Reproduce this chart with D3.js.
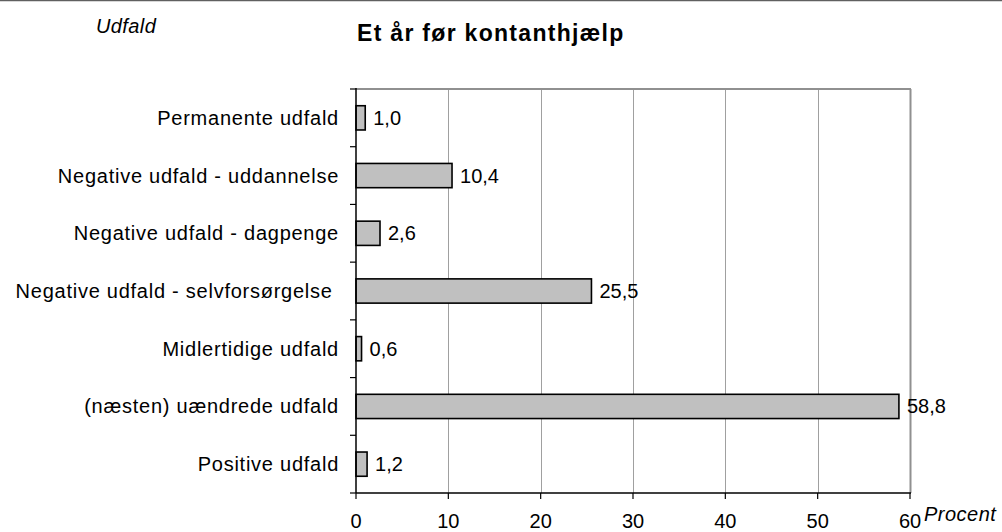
<!DOCTYPE html>
<html><head><meta charset="utf-8">
<script src="https://cdn.jsdelivr.net/npm/d3@7"></script>
<style>body{margin:0;background:#fff}svg{display:block}text{font-family:"Liberation Sans",Arial,sans-serif;white-space:pre}</style>
</head><body><svg id="c" width="1002" height="532"></svg>
<script>
const categories = ["Permanente udfald","Negative udfald - uddannelse","Negative udfald - dagpenge","Negative udfald - selvforsørgelse ","Midlertidige udfald","(næsten) uændrede udfald","Positive udfald"];
const values = [1.0, 10.4, 2.6, 25.5, 0.6, 58.8, 1.2];
const xTicks = [0,10,20,30,40,50,60];
const title = "Et år før kontanthjælp";
const yTitle = "Udfald";
const xTitle = "Procent";

const svg = d3.select("#c");
const L = 356, R = 910, T = 89, B = 493;
const x = d3.scaleLinear().domain([0,60]).range([L,R]);
const y = d3.scaleBand().domain(categories).range([T,B]).paddingInner(0.58).paddingOuter(0.29);

svg.append("line").attr("x1",0).attr("x2",1002).attr("y1",0.5).attr("y2",0.5).attr("stroke","#606060").attr("stroke-width",1.5);

// gridlines
svg.append("g").selectAll("line").data(xTicks.filter(d=>d>0)).join("line")
  .attr("x1",d=>Math.round(x(d))+0.5).attr("x2",d=>Math.round(x(d))+0.5)
  .attr("y1",T).attr("y2",B).attr("stroke","#a0a0a0").attr("stroke-width",1);
svg.append("line").attr("x1",L).attr("x2",R+1).attr("y1",T).attr("y2",T).attr("stroke","#909090").attr("stroke-width",2);
svg.append("line").attr("x1",R+0.5).attr("x2",R+0.5).attr("y1",T).attr("y2",B).attr("stroke","#909090").attr("stroke-width",2);

// bars
svg.append("g").selectAll("rect").data(values).join("rect")
  .attr("x",x(0)).attr("y",(d,i)=>y(categories[i]))
  .attr("width",d=>x(d)-x(0)).attr("height",y.bandwidth())
  .attr("fill","#c0c0c0").attr("stroke","#000").attr("stroke-width",1.6);

// value labels
svg.append("g").selectAll("text").data(values).join("text")
  .attr("x",d=>x(d)+8).attr("y",(d,i)=>y(categories[i])+y.bandwidth()/2)
  .attr("dy","0.35em").attr("font-size",20).attr("fill","#000")
  .text(d=>d3.format(".1f")(d).replace(".",","));

// y axis
const yAx = svg.append("g").attr("transform",`translate(${L},0)`);
yAx.append("line").attr("x1",0).attr("x2",0).attr("y1",T-1).attr("y2",B).attr("stroke","#000").attr("stroke-width",1.5);
const yTickPos = d3.range(categories.length+1).map(i=>T + i*(B-T)/categories.length);
yAx.selectAll("line.t").data(yTickPos).join("line").attr("class","t")
  .attr("x1",-6).attr("x2",0).attr("y1",d=>d).attr("y2",d=>d).attr("stroke","#000").attr("stroke-width",1.2);
svg.append("g").selectAll("text").data(categories).join("text")
  .attr("x",339).attr("y",d=>y(d)+y.bandwidth()/2).attr("dy","0.35em")
  .attr("text-anchor","end").attr("font-size",20).attr("letter-spacing",0.75).attr("fill","#000").text(d=>d);

// x axis
const xAx = svg.append("g").attr("transform",`translate(0,${B})`);
xAx.append("line").attr("x1",L).attr("x2",R+1).attr("y1",0).attr("y2",0).attr("stroke","#000").attr("stroke-width",1.5);
xAx.selectAll("line.t").data(xTicks).join("line").attr("class","t")
  .attr("x1",d=>x(d)).attr("x2",d=>x(d)).attr("y1",0).attr("y2",6).attr("stroke","#000").attr("stroke-width",1.2);
xAx.selectAll("text").data(xTicks).join("text")
  .attr("x",d=>x(d)).attr("y",35).attr("text-anchor","middle").attr("font-size",20).attr("fill","#000").text(d=>d);

svg.append("text").attr("x",357).attr("y",41).attr("font-size",23).attr("letter-spacing",1.3).attr("font-weight","bold").attr("fill","#000").text(title);
svg.append("text").attr("x",96).attr("y",33).attr("font-size",20).attr("letter-spacing",0.4).attr("font-style","italic").attr("fill","#000").text(yTitle);
svg.append("text").attr("x",924).attr("y",521).attr("font-size",20).attr("letter-spacing",0.5).attr("font-style","italic").attr("fill","#000").text(xTitle);
</script></body></html>
